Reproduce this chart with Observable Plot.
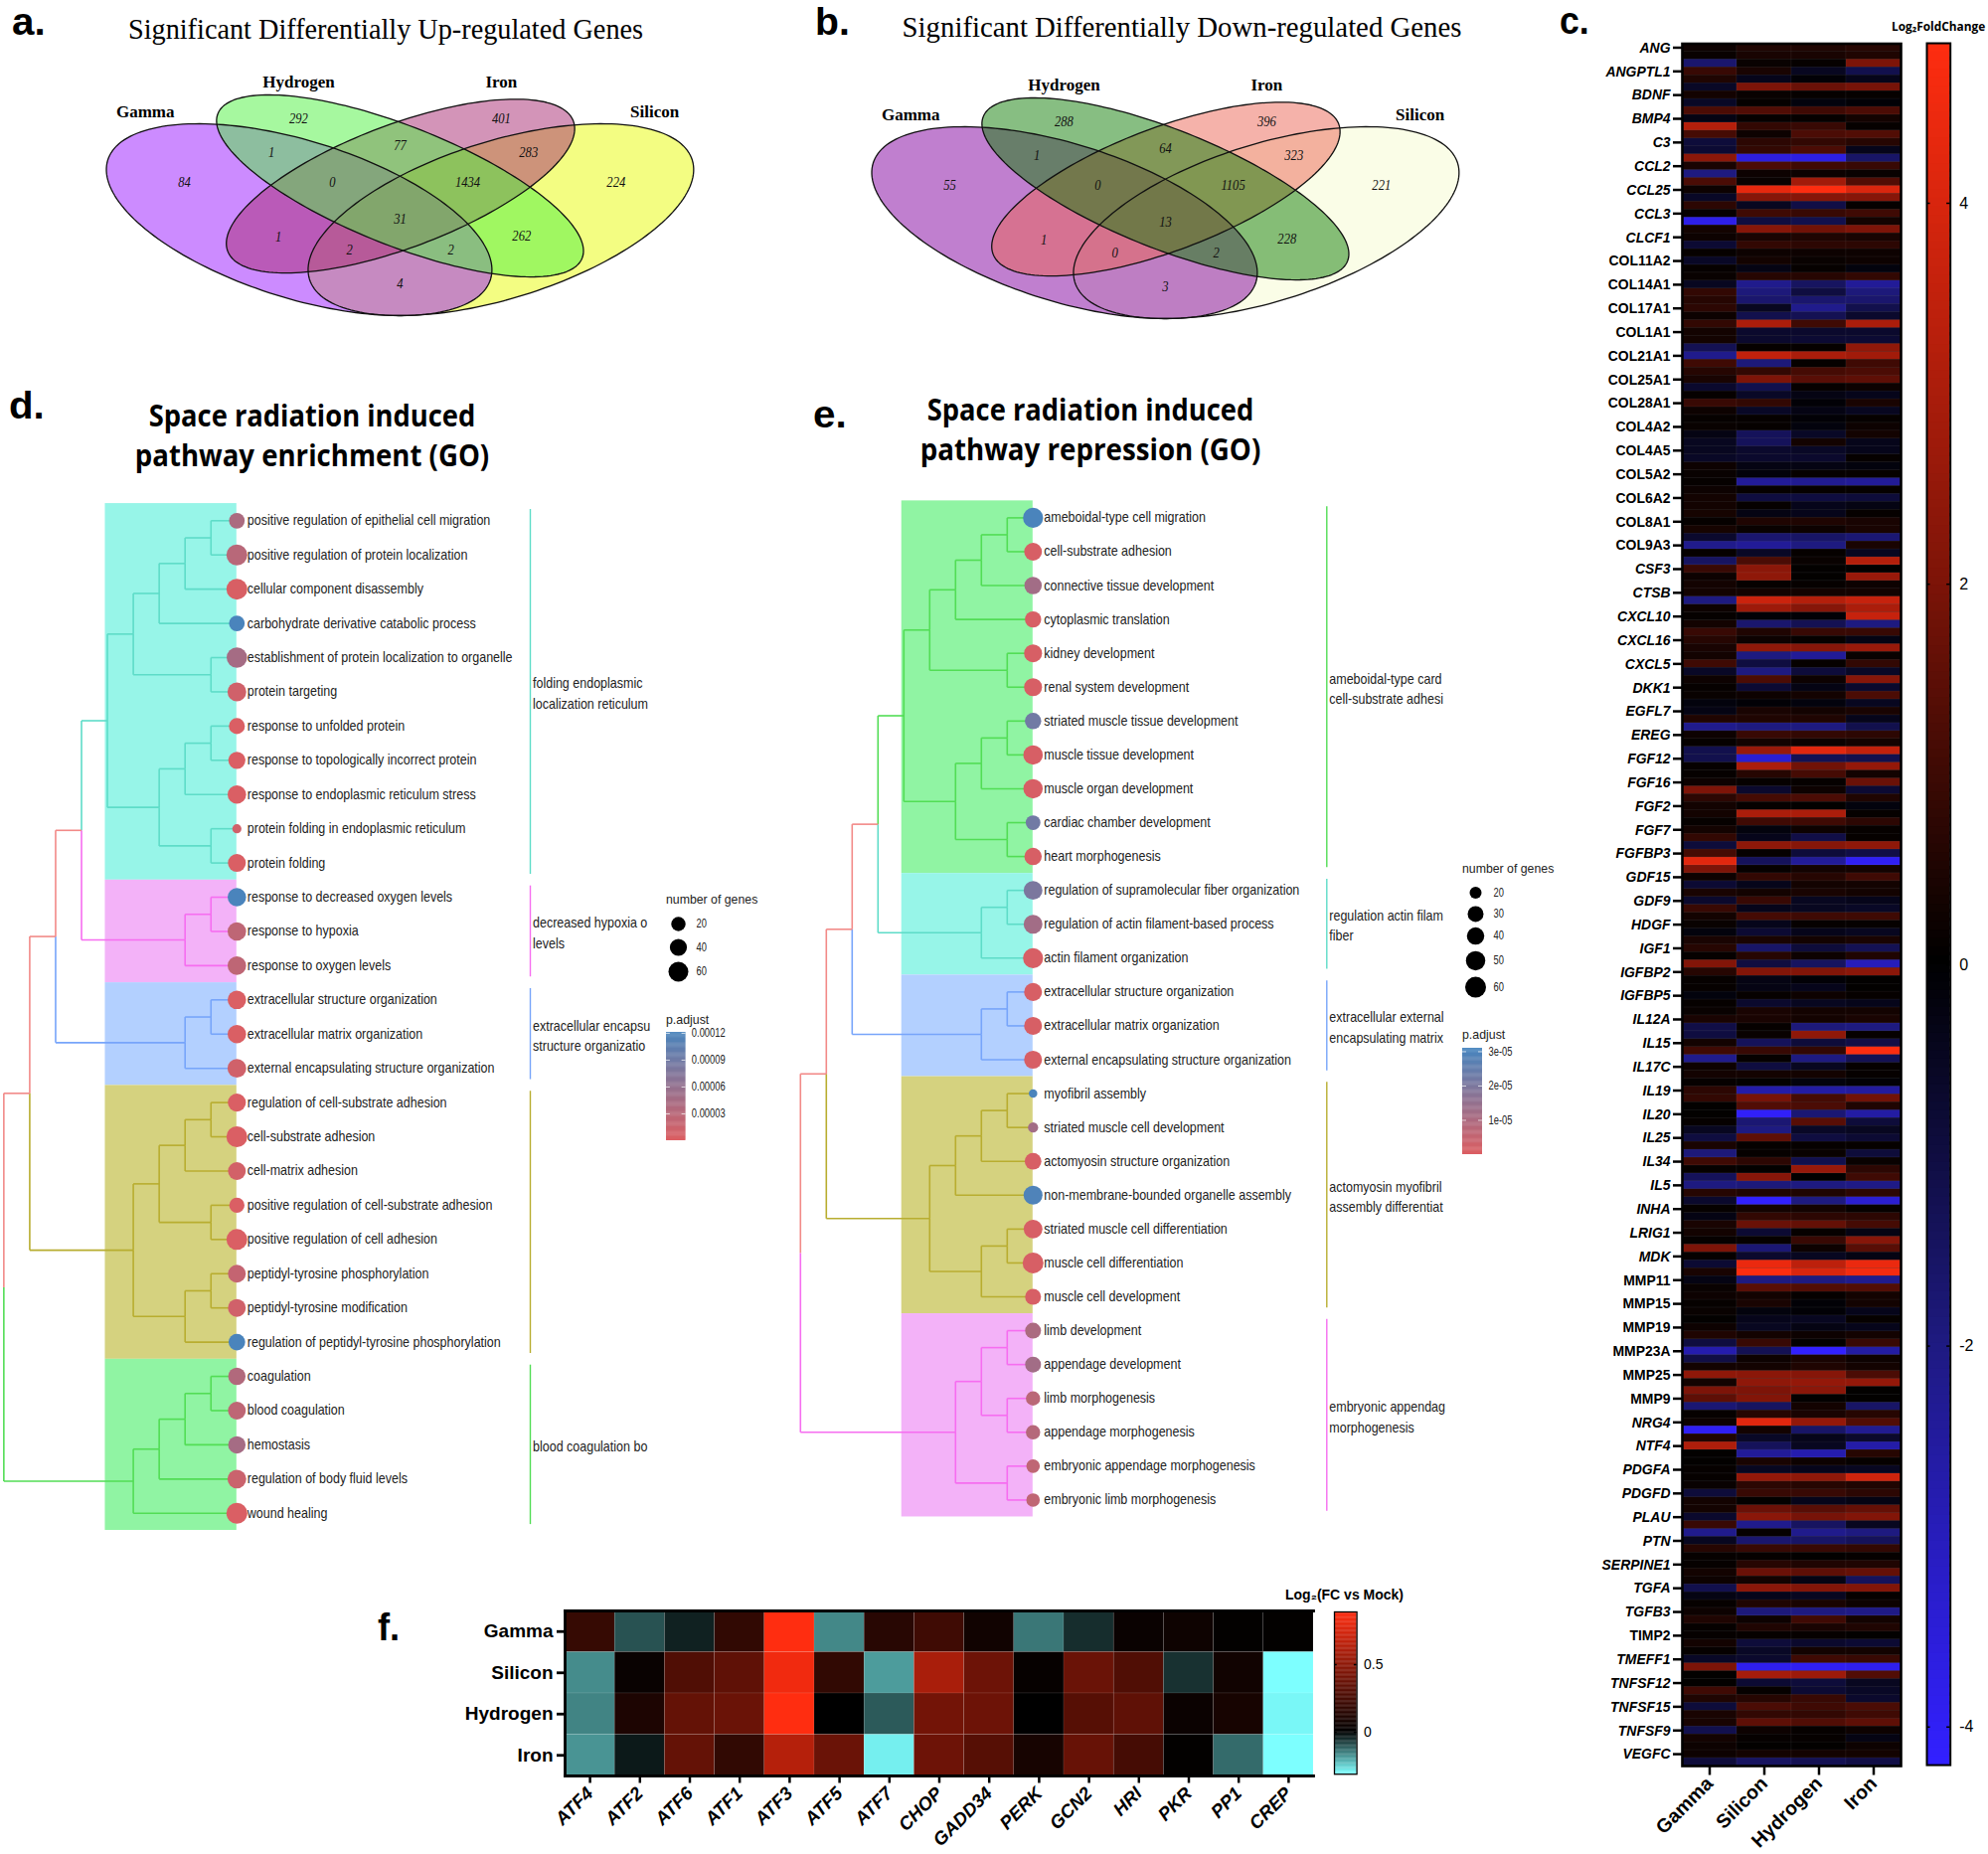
<!doctype html>
<html><head><meta charset="utf-8">
<script src="https://cdn.jsdelivr.net/npm/d3@7"></script>
<script src="https://cdn.jsdelivr.net/npm/@observablehq/plot@0.6"></script>
<style>
html,body{margin:0;background:#fff}
#page{position:relative;width:2000px;height:1865px;overflow:hidden;background:#fff}
#page svg{position:absolute;max-width:none;overflow:visible;background:none}
.t{position:absolute;white-space:nowrap;line-height:1;color:#000}
</style></head><body><div id="page"></div>
<script>
// ---------- Venn data ----------
const upCounts   = [84,292,401,224,1,77,283,0,1434,1,31,262,2,2,4];
const downCounts = [55,288,396,221,1,64,323,0,1105,1,13,228,0,2,3];
const setNames = ["Gamma","Hydrogen","Iron","Silicon"];
const upColors   = {Silicon:"#e7fb05",Gamma:"#9a18ff",Iron:"#a72971",Hydrogen:"#4df23f"};
const downColors = {Silicon:"#f5fbd0",Gamma:"#81009f",Iron:"#eb6555",Hydrogen:"#0f7d05"};

// ---------- Panel d data ----------
const dLabels = ["positive regulation of epithelial cell migration","positive regulation of protein localization","cellular component disassembly","carbohydrate derivative catabolic process","establishment of protein localization to organelle","protein targeting","response to unfolded protein","response to topologically incorrect protein","response to endoplasmic reticulum stress","protein folding in endoplasmic reticulum","protein folding","response to decreased oxygen levels","response to hypoxia","response to oxygen levels","extracellular structure organization","extracellular matrix organization","external encapsulating structure organization","regulation of cell-substrate adhesion","cell-substrate adhesion","cell-matrix adhesion","positive regulation of cell-substrate adhesion","positive regulation of cell adhesion","peptidyl-tyrosine phosphorylation","peptidyl-tyrosine modification","regulation of peptidyl-tyrosine phosphorylation","coagulation","blood coagulation","hemostasis","regulation of body fluid levels","wound healing"];
const dGenes = [30,65,65,30,63,52,32,40,50,5,46,50,50,50,50,50,52,47,65,45,27,65,45,45,37,42,45,42,52,65];
const dPadj = [4,3,0.3,12,4.5,1,0.2,0.2,0.2,1,0.2,12,2.5,2.5,0.2,0.2,1,0.2,0.2,0.8,0.2,0.2,2,1,12,3.5,2.5,4.5,1.5,0.2].map(d=>d*1e-5);
const dClusters = [
 {from:0,to:10,label:"folding endoplasmic\nlocalization reticulum",line:"#5edcc8",band:"#97f5e8"},
 {from:11,to:13,label:"decreased hypoxia o\nlevels",line:"#f66df0",band:"#f3b2f8"},
 {from:14,to:16,label:"extracellular encapsu\nstructure organizatio",line:"#77a5fa",band:"#b3d0ff"},
 {from:17,to:24,label:"",line:"#b8ad30",band:"#d5d27f"},
 {from:25,to:29,label:"blood coagulation bo",line:"#52dd55",band:"#90f4a3"}];
// ---------- Panel e data ----------
const eLabels = ["ameboidal-type cell migration","cell-substrate adhesion","connective tissue development","cytoplasmic translation","kidney development","renal system development","striated muscle tissue development","muscle tissue development","muscle organ development","cardiac chamber development","heart morphogenesis","regulation of supramolecular fiber organization","regulation of actin filament-based process","actin filament organization","extracellular structure organization","extracellular matrix organization","external encapsulating structure organization","myofibril assembly","striated muscle cell development","actomyosin structure organization","non-membrane-bounded organelle assembly","striated muscle cell differentiation","muscle cell differentiation","muscle cell development","limb development","appendage development","limb morphogenesis","appendage morphogenesis","embryonic appendage morphogenesis","embryonic limb morphogenesis"];
const eGenes = [55,42,40,33,43,43,33,50,50,27,40,47,47,55,43,43,43,8,14,35,48,47,60,30,30,30,26,26,24,24];
const ePadj = [3,0.1,1.2,0.1,0.1,0.1,2.2,0.1,0.1,2.2,0.1,2,1.2,0.1,0.1,0.1,0.1,3,1.2,0.1,2.9,0.1,0.1,0.1,1,1.2,0.7,0.8,0.6,0.6].map(d=>d*1e-5);
const eClusters = [
 {from:0,to:10,label:"ameboidal-type card\ncell-substrate adhesi",line:"#52dd55",band:"#90f4a3"},
 {from:11,to:13,label:"regulation actin filam\nfiber",line:"#5edcc8",band:"#97f5e8"},
 {from:14,to:16,label:"extracellular external\nencapsulating matrix",line:"#77a5fa",band:"#b3d0ff"},
 {from:17,to:23,label:"actomyosin myofibril\nassembly differentiat",line:"#b8ad30",band:"#d5d27f"},
 {from:24,to:29,label:"embryonic appendag\nmorphogenesis",line:"#f66df0",band:"#f3b2f8"}];
const treeRed = "#f28a88";

// ---------- Panel c data ----------
const cColumns = ["Gamma","Silicon","Hydrogen","Iron"];
const cGenes = ["ANG","ANGPTL1","BDNF","BMP4","C3","CCL2","CCL25","CCL3","CLCF1","COL11A2","COL14A1","COL17A1","COL1A1","COL21A1","COL25A1","COL28A1","COL4A2","COL4A5","COL5A2","COL6A2","COL8A1","COL9A3","CSF3","CTSB","CXCL10","CXCL16","CXCL5","DKK1","EGFL7","EREG","FGF12","FGF16","FGF2","FGF7","FGFBP3","GDF15","GDF9","HDGF","IGF1","IGFBP2","IGFBP5","IL12A","IL15","IL17C","IL19","IL20","IL25","IL34","IL5","INHA","LRIG1","MDK","MMP11","MMP15","MMP19","MMP23A","MMP25","MMP9","NRG4","NTF4","PDGFA","PDGFD","PLAU","PTN","SERPINE1","TGFA","TGFB3","TIMP2","TMEFF1","TNFSF12","TNFSF15","TNFSF9","VEGFC"];
const cRows = [
[.2,.5,.5,.6],[.15,.4,.4,.5],[-1.7,.15,.1,2],[.9,.4,-.5,-1.2],[.5,-.4,-.1,-.4],[-.6,2,1.7,1.9],[.3,.15,.1,.1],[-.6,.1,-.2,-.1],[1.2,1.3,1,1.2],[-.3,.1,.1,.3],
[3.2,.8,.9,.1],[1.1,.2,1.2,1.3],[-.9,.7,.8,.6],[-.8,.8,1.2,-.4],[2.3,-3.6,-3.7,-1.6],[.4,1.2,1,.9],[-2,.2,.2,.15],[1.2,.15,2.8,1.3],[.2,4.3,4.8,4],[-.6,2.2,2.2,2.2],
[.7,-.5,-1.1,.1],[.1,1,.9,1],[-3.8,-1,-1.2,.3],[.3,2.2,1.8,2],[.2,.4,.5,.4],[-.8,.8,.7,.7],[.1,.2,.2,.2],[-.6,.3,.15,.2],[.1,-.3,.1,-.2],[.15,.6,.6,.8],
[-.5,-2.2,-1.5,-2.4],[.8,-1.9,-1,-1.9],[.6,-1.7,-1.7,-1.7],[.7,-.5,-2.2,-1.2],[.2,-1.2,-1.3,-.7],[.8,3,1,3],[.3,-.7,-.7,-.7],[.3,-.7,-.8,-.8],[-1.3,.1,.1,2.4],[-2.2,3.5,3,2.8],
[1,-1.9,.1,1],[.6,.8,1.1,1.2],[.4,2,1.4,1.5],[-.7,-1.2,.1,.2],[.1,-.6,-.3,-.4],[.9,.8,-.1,.4],[.2,-.6,-.3,-.5],[.1,.1,-.1,.1],[.15,.1,-.2,.2],[-.3,-1.4,-.6,.3],
[-.5,-1.4,.3,-.4],[-.5,-.7,-.6,-.4],[-.6,-.7,-.7,.1],[.2,-.3,-.3,-.2],[.15,-.15,.1,.1],[.1,-2.4,-2.3,-2.4],[.2,.1,.1,.1],[.3,-1,-1,-.9],[.3,.1,-.4,-.3],[.35,-.3,-.4,.1],
[.1,.5,.5,.4],[.35,.15,.2,.4],[-.7,-1.7,-1.6,-1.8],[-2.2,-2.4,-2,.4],[.1,-.6,.1,-.5],[-1.5,1.2,.15,3.2],[.9,2.3,.05,.05],[.2,2.4,.05,2.6],[.3,.1,.1,.2],[.3,.3,.3,.3],
[-2,3.7,3.2,3.6],[.2,2.7,2.2,3],[.1,-.1,-.1,3.6],[.3,-1.7,-1.3,-2],[.9,.5,.9,.9],[.6,.2,.1,-.3],[.4,2.4,2.2,2.6],[.3,-2,-2.4,.15],[1,-1,.1,.8],[-.6,-2,-.9,-.6],
[.2,1.2,.2,2.2],[.1,-.8,-.3,-.7],[.15,.2,.3,1.2],[-.2,-.1,-.2,-.5],[-.3,.4,.3,.4],[.5,.5,.5,-.4],[-2.2,-2,-2,-1.2],[.2,.9,.8,.7],[.1,.3,.2,.3],[-1.2,2.6,4.2,3.5],
[-1.2,-3.4,-1.3,-1.2],[.1,3,1.8,2.5],[.1,.6,1.1,.3],[.2,.1,.1,1.7],[2,-.7,.2,-.8],[.7,1.1,1.2,.5],[.3,.1,.05,-.2],[.3,3,3,.1],[.1,1,1,.7],[.3,-.2,.2,.1],
[.8,-.4,-1.1,.1],[-.9,2.4,2.2,2.4],[1.1,.1,-.9,-1.1],[4.2,-1.4,-2.4,-4],[2,.1,.3,.3],[.2,.8,.6,1],[-.8,-.4,.3,.3],[.4,.3,.4,.3],[-.7,.9,-.5,-.4],[.9,-.4,-.5,-.6],
[.3,1.1,1,1],[.15,-.4,.1,.1],[-.2,-.8,-.4,-.5],[.4,.4,.3,.4],[.6,-1.6,-.9,-1.3],[.1,.6,.2,.5],[2.1,-1,-1.5,-3],[.6,2.1,2.1,2.3],[.1,-.3,-.1,.05],[.1,-.3,-.4,.05],
[-.2,.1,.2,.1],[.1,-.7,-.5,-.4],[.15,.4,.3,.3],[.4,.4,.3,.4],[-1.1,.1,-1.9,-2],[-1,.15,2.4,.1],[.3,-1.4,-.9,-1.1],[1,.9,.8,4.8],[-2.2,.1,-2,-1.3],[.2,-1,-.5,.1],
[.3,.3,.3,.1],[.1,.05,-.2,-.1],[.7,-2.7,-2.6,-2.5],[.8,1.9,1.1,1.8],[.05,1.3,1.2,.5],[.05,-4.1,-1.8,-2.6],[.1,-1.8,1.4,-.9],[-.5,-2,-.6,-.5],[-1,1.5,-1,-.8],[.4,.1,.1,.1],
[-1.9,.1,.15,-.9],[1,.7,-1.2,.15],[.1,.05,2.6,.7],[-1.4,2.2,.05,1],[-2,-1.9,-2,-2.1],[.6,.5,.5,.7],[-.7,-4.2,-2,-3.4],[.1,.3,.3,.1],[-.3,.8,.7,.7],[.4,1.7,1.6,1.1],
[.3,-.8,.1,-.3],[.1,.1,.9,2.2],[2,-1.8,.2,1.4],[.1,-.7,-.5,-.3],[-.8,4.4,3.4,4.4],[.4,4.8,4,4.6],[-.3,-2,-2,-2.2],[.15,1.4,1.3,1.3],[.2,.3,.1,.3],[.1,.4,-.1,.3],
[.15,-.2,-.1,-.4],[.05,-.4,-.5,.1],[.2,-.5,-.3,-.4],[.5,.3,.2,.3],[-1,.9,.05,.9],[-2.8,-1.3,-4.2,-2.6],[-1.1,.2,.4,.2],[.3,.3,.5,.3],[2.4,2.3,2.2,1.2],[.3,2.4,2.5,2.5],
[2,2,2.3,.05],[1.5,2.1,.05,.05],[-1.8,-1.5,.3,-1.6],[.1,.6,.4,.6],[.2,4.2,2.5,1.3],[-4,.3,-1.6,-2.3],[.5,-.6,-.4,-.7],[3.1,-1.4,-.5,-2.7],[.05,-2.4,-2.8,.6],[.05,.4,.2,.1],
[.1,-.5,-.4,-.5],[.1,2.5,2.4,3.8],[.15,.7,.6,.5],[-.9,.9,.9,.7],[.3,.05,-.4,-.3],[.3,1.7,1.4,1.6],[-.7,2.3,1.9,2.1],[.9,-2.2,-1.5,-.5],[-2.2,.1,-2.2,-2],[-.5,-1.7,-1.6,-1.4],
[.6,.9,.9,.8],[.1,.1,.05,.1],[.1,.6,.5,.5],[.3,1.7,1.5,1.6],[.2,.3,-.3,-1.4],[-1.2,2.3,2.1,2.1],[-.3,-.4,-.5,.1],[.1,.5,.4,.2],[.2,-1.9,-2,-2.1],[.5,.2,1,.3],
[.1,.5,.4,.5],[.1,.1,.1,.05],[.3,-.9,-.7,-.8],[.1,-.6,.3,.3],[-.6,-.7,1,.9],[2,-3.9,-4,-3.9],[.05,2.9,2.7,1.3],[.05,-.8,-.9,-.5],[1,.1,-.8,-.6],[.5,.6,.9,-.7],
[-.9,1.2,1,1.2],[.4,.8,.8,1],[.4,1.5,1.3,1.5],[-1.2,.2,.1,.2],[.3,.1,.1,-.3],[.2,.05,.05,.2],[.2,.3,.3,.3],[-.9,-1.5,-1.3,-1.1]];
const cRegular = new Set(cGenes.filter(g=>/^(COL|MMP|TIMP)/.test(g)));

// ---------- Panel f data ----------
const fGenes = ["ATF4","ATF2","ATF6","ATF1","ATF3","ATF5","ATF7","CHOP","GADD34","PERK","GCN2","HRI","PKR","PP1","CREP"];
const fRowNames = ["Gamma","Silicon","Hydrogen","Iron"];
const fGamma    = [.19,-.10,-.04,.17,.89,-.165,.14,.22,.06,-.145,-.055,.035,.05,.01,.01];
const fSilicon  = [-.17,.03,.28,.33,.84,.17,-.19,.59,.38,.02,.37,.28,-.06,.06,-.31];
const fHydrogen = [-.16,.10,.35,.37,.89,0,-.11,.40,.38,0,.30,.33,.04,.08,-.30];
const fIron     = [-.18,-.03,.35,.17,.63,.37,-.29,.38,.30,.08,.36,.24,.01,-.13,-.31];
const fValues = {Gamma:fGamma,Silicon:fSilicon,Hydrogen:fHydrogen,Iron:fIron};

// ---------- helpers ----------
const page = document.getElementById("page");
function put(svg,left,top){svg.style.left=left+"px";svg.style.top=top+"px";page.appendChild(svg);return svg;}
function squeeze(svg,sx,sel="text"){svg.querySelectorAll(sel).forEach(t=>{t.setAttribute("transform",(t.getAttribute("transform")||"")+` scale(${sx},1)`);});}
function txt(str,x,y,{size=14,weight="normal",family="Liberation Sans",style="normal",anchor="start",width=null,color="#000"}={}){
  const el=document.createElement("div");el.className="t";el.textContent=str;
  Object.assign(el.style,{left:x+"px",top:y+"px",fontSize:size+"px",fontWeight:weight,fontFamily:family,fontStyle:style,color});
  page.appendChild(el);
  const s=width?width/el.offsetWidth:1;
  el.style.transformOrigin=anchor==="middle"?"center center":"left center";
  el.style.transform=`translate(${anchor==="middle"?"-50%":"0"},-50%) scaleX(${s})`;
}
const LETTER={size:38,weight:700,family:"Liberation Sans"};

// ---------- Venn ----------
const ellipses={Gamma:{cx:302,cy:220.5,a:202.6,b:79.2,deg:17.2},Hydrogen:{cx:404,cy:186.5,a:198,b:60,deg:21.5},Iron:{cx:404.5,cy:186.7,a:186.6,b:62,deg:-20.5},Silicon:{cx:506,cy:220.5,a:202.6,b:79.2,deg:-17.2}};
const drawOrder=["Silicon","Gamma","Iron","Hydrogen"];
const regionAt=[[186,183],[301.5,119],[506.5,119],[622.5,183],[274,153],[404,146],[534,153],[335.5,183],[472.5,183],[281,238],[404,220],[527,237],[353,251],[455.5,251],[404,285]];
const nameAt=[[146.5,112],[301.5,82],[506.5,82],[661.5,112]];
function outline({cx,cy,a,b,deg}){const r=deg*Math.PI/180;return d3.range(0,360,2).map(t=>{const u=t*Math.PI/180;return {x:cx+a*Math.cos(u)*Math.cos(r)-b*Math.sin(u)*Math.sin(r),y:cy+a*Math.cos(u)*Math.sin(r)+b*Math.sin(u)*Math.cos(r)};});}
function venn(counts,colors,left,top){
  const marks=[];
  for(const n of drawOrder) marks.push(Plot.line(outline(ellipses[n]),{x:"x",y:"y",curve:"linear-closed",fill:colors[n],fillOpacity:.5,stroke:"none"}));
  for(const n of drawOrder) marks.push(Plot.line(outline(ellipses[n]),{x:"x",y:"y",curve:"linear-closed",stroke:"#111",strokeWidth:1.3,fill:"none"}));
  marks.push(Plot.text(counts.map((c,i)=>({c,x:regionAt[i][0],y:regionAt[i][1]})),{x:"x",y:"y",text:d=>String(d.c),fontFamily:"Liberation Serif",fontStyle:"italic",fontSize:15,fill:"#111"}));
  marks.push(Plot.text(setNames.map((c,i)=>({c,x:nameAt[i][0],y:nameAt[i][1]})),{x:"x",y:"y",text:"c",fontFamily:"Liberation Serif",fontWeight:"bold",fontSize:17,fill:"#000"}));
  const svg=Plot.plot({width:780,height:330,margin:0,x:{domain:[0,780],range:[0,776],axis:null},y:{domain:[0,330],range:[0,330],axis:null},marks});
  squeeze(svg,.84,'g[font-style="italic"] text');
  put(svg,left,top);
}
venn(upCounts,upColors,0,0);
venn(downCounts,downColors,769.5,3.3);
txt("a.",12,21.8,{...LETTER,width:34});
txt("b.",820,21.8,{...LETTER,width:35});
txt("Significant Differentially Up-regulated Genes",387.5,29,{size:30,family:"Liberation Serif",anchor:"middle",width:518});
txt("Significant Differentially Down-regulated Genes",1189,27,{size:30,family:"Liberation Serif",anchor:"middle",width:563});

// ---------- Dendrograms ----------
const n=(level,...kids)=>({level,kids});
const inCluster=(i,node)=>{node.cluster=i;(node.kids||[]).forEach(k=>{if(typeof k==="object")inCluster(i,k);});return node;};
function buildTree(root,clusters){
  const segs=[];
  const walk=node=>{
    const kids=node.kids.map(k=>{
      if(typeof k==="number") return {level:0,y:k,cluster:node.cluster};
      walk(k);return k;});
    node.y=d3.mean(kids,k=>k.y);
    for(const k of kids){
      const color=k.cluster==null?treeRed:clusters[k.cluster].line;
      segs.push({x1:node.level,x2:node.level,y1:node.y,y2:k.y,color});
      segs.push({x1:node.level,x2:k.level,y1:k.y,y2:k.y,color});
    }
  };
  walk(root);
  return segs;
}
const dTree=n(9,n(8,n(7,n(6,
  inCluster(0,n(5,n(4,n(3,n(2,n(1,0,1),2),3),n(1,4,5)),n(3,n(2,n(1,6,7),8),n(1,9,10)))),
  inCluster(1,n(2,n(1,11,12),13))),
  inCluster(2,n(2,n(1,14,15),16))),
  inCluster(3,n(4,n(3,n(2,n(1,17,18),19),n(1,20,21)),n(2,n(1,22,23),24)))),
  inCluster(4,n(4,n(3,n(2,n(1,25,26),27),28),29)));
const eTree=n(9,n(8,n(7,n(6,
  inCluster(0,n(5,n(4,n(3,n(2,n(1,0,1),2),3),n(1,4,5)),n(3,n(2,n(1,6,7),8),n(1,9,10)))),
  inCluster(1,n(2,n(1,11,12),13))),
  inCluster(2,n(2,n(1,14,15),16))),
  inCluster(3,n(4,n(3,n(2,n(1,17,18),19),20),n(2,n(1,21,22),23)))),
  inCluster(4,n(3,n(2,n(1,24,25),n(1,26,27)),n(1,28,29))));
const padjRed="#dc5e62",padjBlue="#4a84bc";
function dendro({left,top,w,h,leafX,spacing,row0,step,labels,genes,padj,clusters,tree,rDomain,rRange,pMax,labelOffset,bracketX}){
  const lv=px=>(leafX-px)/spacing;
  const leaves=labels.map((label,i)=>({label,row:i,genes:genes[i],p:padj[i]}));
  const svg=Plot.plot({width:w,height:h,margin:0,
    x:{domain:[lv(left),lv(left+w)],range:[0,w],axis:null},
    y:{domain:[(top-row0)/step,(top+h-row0)/step],range:[0,h],axis:null},
    color:{type:"linear",domain:[0,pMax],range:[padjRed,padjBlue]},
    r:{type:"linear",domain:rDomain,range:rRange},
    marks:[
      Plot.rect(clusters,{x1:()=>5.08,x2:()=>0,y1:d=>d.from-.5,y2:d=>d.to+.5,fill:{value:d=>d.band,scale:null}}),
      Plot.link(buildTree(tree,clusters),{x1:"x1",x2:"x2",y1:"y1",y2:"y2",stroke:{value:d=>d.color,scale:null},strokeWidth:1.6}),
      Plot.dot(leaves,{x:()=>0,y:"row",r:"genes",fill:"p",stroke:"none"}),
      Plot.text(leaves,{x:()=>lv(leafX+labelOffset),y:"row",text:"label",textAnchor:"start",fontFamily:"Liberation Sans",fontSize:14,fill:"#222"}),
      Plot.ruleX(clusters,{x:()=>lv(bracketX),y1:d=>d.from-.33,y2:d=>d.to+.33,stroke:{value:d=>d.line,scale:null},strokeWidth:1.4}),
      Plot.text(clusters,{x:()=>lv(bracketX+2.5),y:d=>(d.from+d.to)/2,text:"label",textAnchor:"start",lineHeight:1.46,fontFamily:"Liberation Sans",fontSize:14,fill:"#222"})
    ]});
  squeeze(svg,.893);
  put(svg,left,top);
}
dendro({left:0,top:490,w:780,h:1070,leafX:237.8,spacing:26.05,row0:523.3,step:34.43,labels:dLabels,genes:dGenes,padj:dPadj,clusters:dClusters,tree:dTree,rDomain:[5,20,40,60,65],rRange:[4.6,7.2,8.6,10,10.5],pMax:1.2e-4,labelOffset:10.5,bracketX:533});
dendro({left:790,top:490,w:780,h:1070,leafX:1038.8,spacing:26,row0:520.4,step:34.07,labels:eLabels,genes:eGenes,padj:ePadj,clusters:eClusters,tree:eTree,rDomain:[5,20,30,40,50,60],rRange:[3.8,6,8,8.75,9.75,10.5],pMax:3e-5,labelOffset:11,bracketX:1334.3});

txt("d.",9,407.8,{...LETTER,width:36});
txt("e.",818,416.8,{...LETTER,width:34});
const TH={size:31,weight:700,family:"Open Sans",anchor:"middle"};
txt("Space radiation induced",314,417,{...TH,width:329});
txt("pathway enrichment (GO)",314,457,{...TH,width:356});
txt("Space radiation induced",1097,411,{...TH,width:329});
txt("pathway repression (GO)",1097,451,{...TH,width:343});

// size legends
function sizeLegend(x,top,counts,ys,rDomain,rRange){
  const svg=Plot.plot({width:40,height:120,margin:0,
    x:{domain:[0,1],range:[0,18],axis:null},y:{domain:counts,range:ys.map(v=>v-top),axis:null,type:"linear"},
    r:{type:"linear",domain:rDomain,range:rRange},
    marks:[Plot.dot(counts,{x:()=>0,y:d=>d,r:d=>d,fill:"#000"}),
           Plot.text(counts,{x:()=>1,y:d=>d,text:d=>String(d),textAnchor:"start",fontFamily:"Liberation Sans",fontSize:12,fill:"#222"})]});
  squeeze(svg,.78);
  put(svg,x,top);
}
sizeLegend(682,910,[20,40,60],[929,952.5,977],[5,20,40,60,65],[4.6,7.2,8.6,10,10.5]);
sizeLegend(1483.5,885,[20,30,40,50,60],[897.4,918.9,941.1,965.9,992.6],[5,20,30,40,50,60],[3.8,6,8,8.75,9.75,10.5]);
txt("number of genes",670,905,{size:13.5,width:92,color:"#222"});
txt("number of genes",1470.6,874,{size:13.5,width:92,color:"#222"});
txt("p.adjust",670,1026,{size:13.5,width:43,color:"#222"});
txt("p.adjust",1470.6,1041,{size:13.5,width:43,color:"#222"});

// p.adjust bars
function padjBar({left,top,w,h,lo,hi,pMax,ticks,fmt}){
  const stepv=(hi-lo)/120,bins=d3.range(lo,hi,stepv);
  const svg=Plot.plot({width:w,height:h,margin:0,
    x:{domain:[0,1],axis:null},y:{domain:[lo,hi],range:[h,0],axis:null},
    color:{type:"linear",domain:[0,pMax],range:[padjRed,padjBlue]},
    marks:[Plot.rect(bins,{y1:d=>d,y2:d=>Math.min(hi,d+stepv*1.4),fill:d=>d}),
      Plot.ruleY(ticks,{x1:()=>0,x2:()=>.2,stroke:"#fff",strokeOpacity:.7}),
      Plot.ruleY(ticks,{x1:()=>.8,x2:()=>1,stroke:"#fff",strokeOpacity:.7}),
      Plot.text(ticks,{x:()=>1.3,y:d=>d,text:fmt,textAnchor:"start",fontFamily:"Liberation Sans",fontSize:12,fill:"#222"})]});
  squeeze(svg,.78);
  put(svg,left,top);
}
padjBar({left:670,top:1038,w:19.5,h:109,lo:0,hi:1.21e-4,pMax:1.2e-4,ticks:[3e-5,6e-5,9e-5,12e-5],fmt:d=>d3.format(".5f")(d)});
padjBar({left:1470.6,top:1054,w:20,h:107,lo:0,hi:3.1e-5,pMax:3e-5,ticks:[1e-5,2e-5,3e-5],fmt:d=>(d*1e5).toFixed(0)+"e-05"});

// ---------- Panel c heat map ----------
const cColor={type:"linear",domain:[-4.2,-2,0,2,4.84],range:["#3220ff","#1e1a80","#000000","#7d1408","#ff2d10"]};
const cCells=cRows.flatMap((r,row)=>r.map((v,j)=>({row,col:cColumns[j],v})));
const cTicks=cGenes.map((_,i)=>i*3);
{
 const axisFont={fontFamily:"Liberation Sans",fontWeight:"bold",fontSize:15,tickSize:9,tickPadding:3,strokeWidth:2.5,label:null,tickFormat:r=>cGenes[r/3]};
 const svg=Plot.plot({width:370,height:1835,marginLeft:132,marginRight:18,marginTop:13.5,marginBottom:89,
  style:{fontFamily:"Liberation Sans"},
  x:{type:"band",domain:cColumns,padding:0,round:false,label:null},
  y:{type:"band",domain:d3.range(cRows.length),padding:0,round:false,label:null},
  color:cColor,
  marks:[Plot.frame({fill:"#000"}),
   Plot.cell(cCells,{x:"col",y:"row",fill:"v",stroke:"#fff",strokeOpacity:.1,strokeWidth:.5}),
   Plot.frame({stroke:"#000",strokeWidth:2.6}),
   Plot.axisY({...axisFont,ticks:cTicks.filter(r=>!cRegular.has(cGenes[r/3])),fontStyle:"italic"}),
   Plot.axisY({...axisFont,ticks:cTicks.filter(r=>cRegular.has(cGenes[r/3]))}),
   Plot.axisX({fontFamily:"Liberation Sans",fontWeight:"bold",fontSize:19.5,tickSize:9.5,tickPadding:5,strokeWidth:2.5,tickRotate:-45,label:null})]});
 squeeze(svg,.93,'g[aria-label="y-axis tick label"] text');
 put(svg,1560,30);
}
function colorBar({left,top,w,h,lo,hi,color,ticks,fontSize,labelGap,tickLen,frameW,fmt}){
  const stepv=(hi-lo)/200,bins=d3.range(lo,hi,stepv);
  const svg=Plot.plot({width:w,height:h,margin:0,
    x:{domain:[0,1],axis:null},y:{domain:[lo,hi],range:[h,0],axis:null},color,
    marks:[Plot.rect(bins,{y1:d=>d,y2:d=>Math.min(hi,d+stepv*1.4),fill:d=>d}),
      Plot.frame({stroke:"#000",strokeWidth:frameW}),
      Plot.ruleY(ticks,{x1:()=>0,x2:()=>tickLen,stroke:"#000",strokeWidth:1.5}),
      Plot.ruleY(ticks,{x1:()=>1-tickLen,x2:()=>1,stroke:"#000",strokeWidth:1.5}),
      Plot.text(ticks,{x:()=>1+labelGap/w,y:d=>d,text:fmt||(d=>String(d)),textAnchor:"start",fontFamily:"Liberation Sans",fontSize,fill:"#000"})]});
  put(svg,left,top);
}
colorBar({left:1938,top:43,w:23.7,h:1733,lo:-4.2,hi:4.84,color:cColor,ticks:[-4,-2,0,2,4],fontSize:16,labelGap:9,tickLen:.15,frameW:2,fmt:d=>String(d)});
txt("Log₂FoldChange",1903,26.5,{size:12.5,weight:700,family:"Open Sans",width:94});
txt("c.",1569,20.8,{...LETTER,width:30});

// ---------- Panel f heat map ----------
const fColor={type:"linear",domain:[-.31,0,.89],range:["#7dffff","#000000","#ff2d10"]};
const fCells=fRowNames.flatMap(r=>fGenes.map((g,j)=>({r,g,v:fValues[r][j]})));
{
 const svg=Plot.plot({width:901,height:265,marginLeft:148,marginRight:0,marginTop:20,marginBottom:79,
  x:{type:"band",domain:fGenes,padding:0,round:false,label:null},
  y:{type:"band",domain:fRowNames,padding:0,round:false,label:null},
  color:fColor,
  marks:[Plot.cell(fCells,{x:"g",y:"r",fill:"v",stroke:"#fff",strokeOpacity:.15,strokeWidth:.6}),
   Plot.frame({anchor:"top",stroke:"#000",strokeWidth:2.8}),
   Plot.frame({anchor:"left",stroke:"#000",strokeWidth:2.8}),
   Plot.frame({anchor:"bottom",stroke:"#000",strokeWidth:2.8}),
   Plot.axisY({fontFamily:"Liberation Sans",fontWeight:"bold",fontSize:19,tickSize:8,tickPadding:4,strokeWidth:2.8,label:null}),
   Plot.axisX({fontFamily:"Liberation Sans",fontWeight:"bold",fontStyle:"italic",fontSize:18.5,tickSize:7.5,tickPadding:7,strokeWidth:2.5,tickRotate:-45,label:null})]});
 put(svg,420,1600);
}
colorBar({left:1342,top:1620.7,w:22.6,h:163.3,lo:-.31,hi:.89,color:fColor,ticks:[0,.5],fontSize:14,labelGap:7,tickLen:.12,frameW:1.3,fmt:d=>String(d)});
txt("Log₂(FC vs Mock)",1293,1604,{size:14,weight:"bold",width:119});
txt("f.",380,1636.8,{...LETTER,width:22});
</script></body></html>
